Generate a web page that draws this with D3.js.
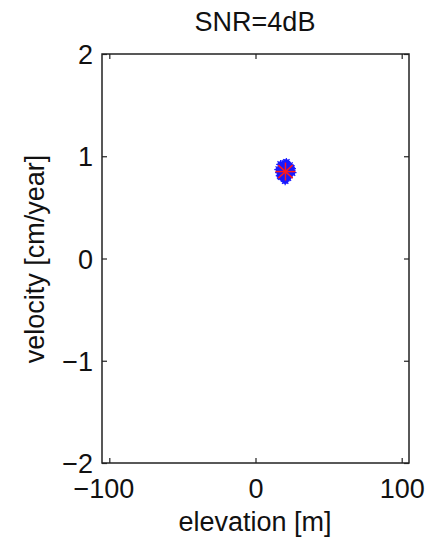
<!DOCTYPE html>
<html><head><meta charset="utf-8">
<script src="https://cdn.jsdelivr.net/npm/d3@7"></script>
<style>body{margin:0;background:#fff}svg{display:block}</style>
</head><body>
<script>
const title = "SNR=4dB";
const xTicks = [-100, 0, 100];
const yTicks = [-2, -1, 0, 1, 2];
const estElev = [20.5, 17.8, 23.1, 19.2, 21.9, 16.5, 24.2, 18.9, 22.6, 20.1, 15.9, 25.0, 19.7, 21.4, 17.2, 23.8, 20.9, 18.3, 22.2, 16.9, 24.6, 19.5, 21.1, 20.3, 18.0, 23.3, 17.5, 22.8, 20.7, 19.0];
const estVel  = [0.85, 0.88, 0.82, 0.91, 0.87, 0.84, 0.86, 0.80, 0.90, 0.93, 0.87, 0.84, 0.78, 0.82, 0.92, 0.89, 0.86, 0.83, 0.79, 0.81, 0.88, 0.85, 0.94, 0.76, 0.86, 0.91, 0.80, 0.84, 0.89, 0.83];
const trueElev = [20.5];
const trueVel = [0.85];

const W = 430, H = 539;
const x = d3.scaleLinear().domain([-105, 105]).range([102, 409]);
const y = d3.scaleLinear().domain([-2, 2]).range([463, 54]);
const font = "Liberation Sans, Arial, Helvetica, sans-serif";
const fs = 27;

const svg = d3.select("body").append("svg").attr("width", W).attr("height", H);

// estimated points
const g = svg.append("g");
estElev.forEach((e, i) => {
  const cx = x(e), cy = y(estVel[i]);
  g.append("circle").attr("cx", cx).attr("cy", cy).attr("r", 3.2).attr("fill", "#1a1aff");
  const s = 4.5;
  [[s,0],[0,s],[s*0.7,s*0.7],[s*0.7,-s*0.7]].forEach(([dx,dy]) => {
    g.append("line").attr("x1", cx-dx).attr("y1", cy-dy).attr("x2", cx+dx).attr("y2", cy+dy)
      .attr("stroke", "#1a1aff").attr("stroke-width", 1.2);
  });
});
// true value: red asterisk
trueElev.forEach((e, i) => {
  const cx = x(e), cy = y(trueVel[i]);
  const s = 10;
  [[s,0],[0,s*0.9],[s*0.72,s*0.65],[s*0.72,-s*0.65]].forEach(([dx,dy]) => {
    svg.append("line").attr("x1", cx-dx).attr("y1", cy-dy).attr("x2", cx+dx).attr("y2", cy+dy)
      .attr("stroke", "#ff1a1a").attr("stroke-width", 1.5);
  });
});

// axes box
const [x0, x1] = x.range(), [y0, y1] = y.range();
svg.append("rect").attr("x", x0).attr("y", y1).attr("width", x1 - x0).attr("height", y0 - y1)
  .attr("fill", "none").attr("stroke", "#222").attr("stroke-width", 1.5);

const fmt = d => d < 0 ? "\u2212" + Math.abs(d) : d;
const axB = svg.append("g").attr("transform", `translate(0,${y0})`)
  .call(d3.axisBottom(x).tickValues(xTicks).tickSizeInner(-5).tickSizeOuter(0).tickFormat(fmt));
const axT = svg.append("g").attr("transform", `translate(0,${y1})`)
  .call(d3.axisTop(x).tickValues(xTicks).tickSizeInner(-5).tickSizeOuter(0).tickFormat(""));
const axL = svg.append("g").attr("transform", `translate(${x0},0)`)
  .call(d3.axisLeft(y).tickValues(yTicks).tickSizeInner(-5).tickSizeOuter(0).tickFormat(fmt));
const axR = svg.append("g").attr("transform", `translate(${x1},0)`)
  .call(d3.axisRight(y).tickValues(yTicks).tickSizeInner(-5).tickSizeOuter(0).tickFormat(""));
[axB, axT, axL, axR].forEach(a => {
  a.select(".domain").remove();
  a.selectAll(".tick line").attr("stroke", "#222").attr("stroke-width", 1.2);
  a.selectAll(".tick text").attr("font-family", font).attr("font-size", fs).attr("fill", "#111");
});
axB.selectAll(".tick text").attr("dy", null).attr("y", 35).attr("x", d => d < 0 ? -6 : 0);
axL.selectAll(".tick text").attr("x", -9).attr("dy", "0.36em");

// title and labels
svg.append("text").attr("x", 255).attr("y", 31).attr("text-anchor", "middle")
  .attr("font-family", font).attr("font-size", fs).attr("fill", "#111").text(title);
svg.append("text").attr("x", 255).attr("y", 531).attr("text-anchor", "middle")
  .attr("font-family", font).attr("font-size", fs).attr("fill", "#111").text("elevation [m]");
svg.append("text").attr("transform", "translate(44,259) rotate(-90)").attr("text-anchor", "middle")
  .attr("font-family", font).attr("font-size", fs).attr("fill", "#111").text("velocity [cm/year]");
</script>
</body></html>
